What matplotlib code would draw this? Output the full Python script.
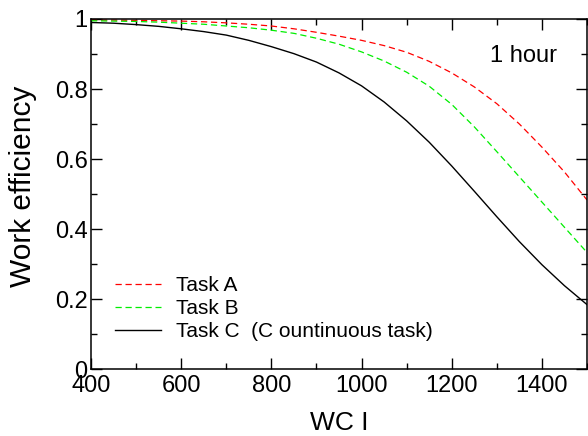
import matplotlib
matplotlib.use("Agg")
import matplotlib.pyplot as plt
from matplotlib.ticker import MultipleLocator, FuncFormatter

# ---- data ----
wci = [400, 450, 500, 550, 600, 650, 700, 750, 800, 850, 900, 950, 1000, 1050,
       1100, 1150, 1200, 1250, 1300, 1350, 1400, 1450, 1500]
task_a = [0.997, 0.997, 0.996, 0.995, 0.994, 0.992, 0.989, 0.985, 0.980, 0.972,
          0.962, 0.951, 0.939, 0.924, 0.905, 0.879, 0.846, 0.806, 0.758, 0.700,
          0.634, 0.563, 0.483]
task_b = [0.995, 0.994, 0.993, 0.991, 0.988, 0.985, 0.980, 0.975, 0.968, 0.959,
          0.945, 0.928, 0.906, 0.880, 0.848, 0.808, 0.756, 0.692, 0.621, 0.549,
          0.477, 0.405, 0.333]
task_c = [0.990, 0.988, 0.984, 0.979, 0.972, 0.964, 0.954, 0.939, 0.921, 0.901,
          0.877, 0.846, 0.809, 0.763, 0.709, 0.648, 0.580, 0.508, 0.435, 0.364,
          0.298, 0.238, 0.184]
labels = ["Task A", "Task B", "Task C  (C ountinuous task)"]
annotation = "1 hour"
xlabel = "WC I"
ylabel = "Work efficiency"

plt.rcParams['font.family'] = ['Liberation Sans', 'DejaVu Sans']

fig = plt.figure(figsize=(5.88, 4.36), dpi=100)
ax = fig.add_axes([91/588, 67/436, 496/588, 350/436])

ax.plot(wci, task_a, color='#ff0000', lw=0.9, linestyle=(0, (5, 3)), label=labels[0])
ax.plot(wci, task_b, color='#00ee00', lw=0.9, linestyle=(0, (5, 3)), label=labels[1])
ax.plot(wci, task_c, color='black', lw=1.0, label=labels[2])

ax.set_xlim(400, 1500)
ax.set_ylim(0, 1)
ax.xaxis.set_major_locator(MultipleLocator(200))
ax.xaxis.set_minor_locator(MultipleLocator(100))
ax.yaxis.set_major_locator(MultipleLocator(0.2))
ax.yaxis.set_minor_locator(MultipleLocator(0.1))
ax.yaxis.set_major_formatter(FuncFormatter(lambda v, p: f"{v:g}"))

ax.tick_params(which='both', direction='in', top=True, right=True, width=1.0,
               colors='black', labelsize=17)
ax.tick_params(which='major', length=8)
ax.tick_params(which='minor', length=4)
ax.tick_params(axis='x', which='major', pad=4.5)
ax.tick_params(axis='y', which='major', pad=2.5)
for s in ax.spines.values():
    s.set_linewidth(1.1)

ax.set_xlabel(xlabel, fontsize=19, labelpad=10)
ax.set_ylabel(ylabel, fontsize=21.5, labelpad=12.5, y=0.523)

ax.text(0.804, 0.877, annotation, transform=ax.transAxes, fontsize=17,
        ha='left', va='baseline')

leg = ax.legend(loc='upper left', bbox_to_anchor=(0.048, 0.266), frameon=False,
                fontsize=15, handlelength=2.2, handletextpad=0.75,
                labelspacing=0.19, borderpad=0, borderaxespad=0)

fig.savefig('out.png', dpi=100)
